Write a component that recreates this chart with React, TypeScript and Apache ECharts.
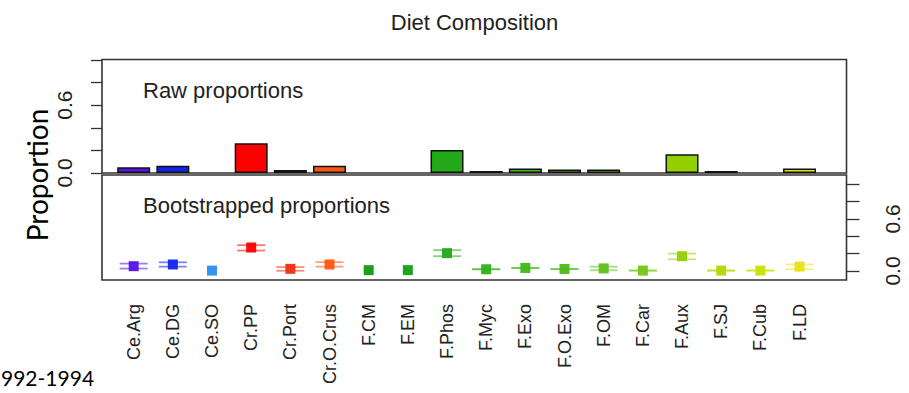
import React, { useEffect, useRef } from "react";
import * as echarts from "echarts";

const categories = [
  "Ce.Arg", "Ce.DG", "Ce.SO", "Cr.PP", "Cr.Port", "Cr.O.Crus", "F.CM", "F.EM", "F.Phos",
  "F.Myc", "F.Exo", "F.O.Exo", "F.OM", "F.Car", "F.Aux", "F.SJ", "F.Cub", "F.LD",
];
const rawProportions = [0.05, 0.065, 0, 0.263, 0.027, 0.065, 0, 0, 0.204, 0.018, 0.04, 0.03, 0.03, 0, 0.165, 0.018, 0, 0.04];
const bootMean = [0.055, 0.075, 0.005, 0.27, 0.025, 0.075, 0.01, 0.01, 0.205, 0.02, 0.035, 0.023, 0.03, 0.005, 0.17, 0.005, 0.005, 0.05];
const bootLower: (number | null)[] = [0.028, 0.05, null, 0.235, 0.003, 0.05, null, null, 0.17, 0.02, 0.035, 0.023, 0.008, 0.005, 0.135, 0.005, 0.005, 0.02];
const bootUpper: (number | null)[] = [0.085, 0.1, null, 0.297, 0.045, 0.102, null, null, 0.24, 0.02, 0.035, 0.023, 0.05, 0.005, 0.2, 0.005, 0.005, 0.075];
const yTicksShown = [0, 0.6];

const palette = [
  "#5512e6", "#1422ee", "#2a8cf2", "#ff0000", "#ee3011", "#ff5511", "#109a10", "#12a012", "#22a818",
  "#30b012", "#40b816", "#4cba16", "#5ec01a", "#72c612", "#92d000", "#b2d800", "#c8e000", "#e8e018",
];

const RFONT = "'Liberation Sans', Arial, sans-serif";
const TXT = "#222";

export default function App() {
  const ref = useRef<HTMLDivElement>(null);
  useEffect(() => {
    if (!ref.current) return;
    const chart = echarts.init(ref.current, null, { renderer: "svg" });
    const fmt = (v: number) => (yTicksShown.some((t) => Math.abs(t - v) < 1e-6) ? v.toFixed(1) : "");
    const ciData = (arr: (number | null)[]) =>
      arr.map((v, i) => (v == null ? "-" : { value: v, itemStyle: { color: palette[i], opacity: 0.55 } }));
    const plotL = 102, plotR = 846.5;
    const option: any = {
      animation: false,
      grid: [
        { left: 114.1, width: 705, top: 60, height: 113 },
        { left: 114.1, width: 705, top: 184, height: 87 },
      ],
      xAxis: [
        { gridIndex: 0, type: "category", data: categories, axisLine: { show: false }, axisTick: { show: false }, axisLabel: { show: false } },
        {
          gridIndex: 1, type: "category", data: categories,
          axisLine: { show: false }, axisTick: { show: false },
          axisLabel: { rotate: 90, margin: 33, fontSize: 18, color: TXT, fontFamily: RFONT, interval: 0 },
        },
      ],
      yAxis: [
        {
          gridIndex: 0, type: "value", min: 0, max: 1, interval: 0.2, position: "left", offset: 12.1,
          axisLine: { show: false }, splitLine: { show: false },
          axisTick: { show: true, length: 11, lineStyle: { color: "#333", width: 1.3 } },
          axisLabel: { rotate: 90, margin: 27, fontSize: 21, color: TXT, fontFamily: RFONT, formatter: fmt },
        },
        {
          gridIndex: 1, type: "value", min: 0, max: 1, interval: 0.2, position: "right", offset: 27.4,
          axisLine: { show: false }, splitLine: { show: false },
          axisTick: { show: true, length: 13, lineStyle: { color: "#333", width: 1.3 } },
          axisLabel: { rotate: 90, margin: 35, fontSize: 21, color: TXT, fontFamily: RFONT, formatter: fmt },
        },
      ],
      series: [
        {
          type: "bar", xAxisIndex: 0, yAxisIndex: 0, silent: true, barWidth: 33,
          data: rawProportions.map((v, i) => (v > 0 ? { value: v, itemStyle: { color: palette[i] } } : "-")),
          itemStyle: { borderColor: "#111", borderWidth: 1.5 },
        },
        {
          type: "scatter", xAxisIndex: 1, yAxisIndex: 1, silent: true, symbol: "rect", symbolSize: [28, 1.8],
          data: ciData(bootLower),
        },
        {
          type: "scatter", xAxisIndex: 1, yAxisIndex: 1, silent: true, symbol: "rect", symbolSize: [28, 1.8],
          data: ciData(bootUpper),
        },
        {
          type: "scatter", xAxisIndex: 1, yAxisIndex: 1, silent: true, symbol: "rect", symbolSize: 10,
          data: bootMean.map((v, i) => ({ value: v, itemStyle: { color: palette[i], opacity: 0.95 } })),
        },
      ],
      graphic: [
        { type: "rect", shape: { x: plotL, y: 59.5, width: plotR - plotL, height: 113.5 }, style: { fill: "none", stroke: "#333", lineWidth: 1.6 }, silent: true },
        { type: "rect", shape: { x: plotL, y: 175, width: plotR - plotL, height: 105 }, style: { fill: "none", stroke: "#333", lineWidth: 1.6 }, silent: true },
        { type: "text", x: 474.5, y: 22, style: { text: "Diet Composition", font: `22px ${RFONT}`, fill: TXT, align: "center", verticalAlign: "middle" } },
        { type: "text", x: 143, y: 90, style: { text: "Raw proportions", font: `22px ${RFONT}`, fill: TXT, align: "left", verticalAlign: "middle" } },
        { type: "text", x: 143, y: 205, style: { text: "Bootstrapped proportions", font: `22px ${RFONT}`, fill: TXT, align: "left", verticalAlign: "middle" } },
        { type: "text", x: 37, y: 175, rotation: Math.PI / 2, style: { text: "Proportion", font: `28px Lato, 'Open Sans', sans-serif`, fill: "#000", align: "center", verticalAlign: "middle" } },
        { type: "text", x: 1, y: 377, style: { text: "992-1994", font: `21px Lato, 'Open Sans', sans-serif`, fill: "#000", align: "left", verticalAlign: "middle" } },
      ],
    };
    chart.setOption(option);
    return () => chart.dispose();
  }, []);
  return <div ref={ref} style={{ width: 909, height: 393, position: "absolute", left: 0, top: 0 }} />;
}
